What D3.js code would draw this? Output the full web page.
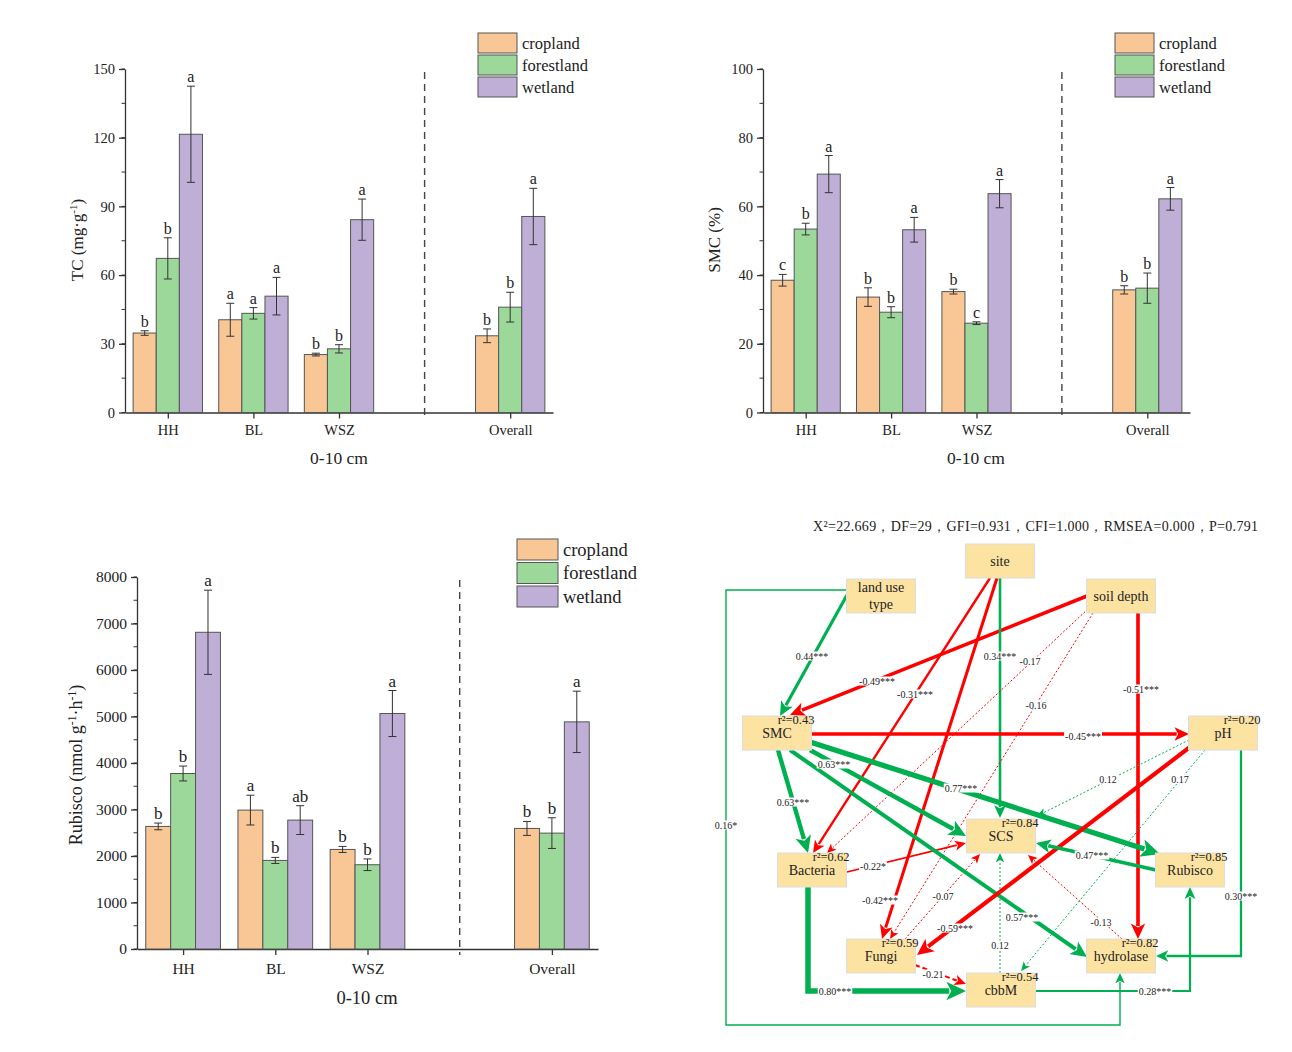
<!DOCTYPE html>
<html>
<head>
<meta charset="utf-8">
<title>TC, SMC, Rubisco and path model</title>
<script src="https://d3js.org/d3.v7.min.js" charset="utf-8"></script>
<style>
  body { margin: 0; background: #fff; }
  svg text { font-family: "Liberation Serif", "Times New Roman", serif; fill: #222; }
</style>
</head>
<body>
<svg id="fig" width="1292" height="1052"></svg>
<script>
// ---------- data ----------
var sites = ["HH", "BL", "WSZ", "Overall"];
var slots = ["HH", "BL", "WSZ", "gap", "Overall"];
var landUses = ["cropland", "forestland", "wetland"];
var landColors = ["#F9C695", "#9DD89B", "#BFAED6"];

// TC (mg g-1): rows = cropland, forestland, wetland ; cols = HH, BL, WSZ, Overall
var tcMean = [[34.7, 40.5, 25.3, 33.5], [67.3, 43.3, 27.8, 46.0], [121.5, 50.8, 84.2, 85.6]];
var tcErr  = [[1.0, 7.2, 0.6, 3.0], [9.0, 2.5, 1.8, 6.5], [21.0, 8.2, 9.0, 12.3]];
var tcLetters = [["b", "a", "b", "b"], ["b", "a", "b", "b"], ["a", "a", "a", "a"]];

// SMC (%)
var smcMean = [[38.5, 33.6, 35.2, 35.7], [53.4, 29.2, 26.0, 36.2], [69.4, 53.2, 63.7, 62.2]];
var smcErr  = [[1.7, 2.7, 0.7, 1.2], [1.7, 1.6, 0.4, 4.4], [5.4, 3.6, 4.1, 3.3]];
var smcLetters = [["c", "b", "b", "b"], ["b", "b", "c", "b"], ["a", "a", "a", "a"]];

// Rubisco (nmol g-1 h-1)
var rubMean = [[2636, 2987, 2141, 2593], [3774, 1905, 1812, 2492], [6811, 2772, 5064, 4885]];
var rubErr  = [[72, 320, 65, 150], [160, 65, 125, 330], [906, 310, 495, 660]];
var rubLetters = [["b", "a", "b", "b"], ["b", "b", "b", "b"], ["a", "ab", "a", "a"]];

// path model
var fitText = "X²=22.669，DF=29，GFI=0.931，CFI=1.000，RMSEA=0.000，P=0.791";
var semNodes = ["site", "land use type", "soil depth", "SMC", "pH", "SCS", "Bacteria", "Rubisco", "Fungi", "hydrolase", "cbbM"];
var semR2 = [null, null, null, 0.43, 0.20, 0.84, 0.62, 0.85, 0.59, 0.82, 0.54];
var semFrom = ["land use type", "soil depth", "site", "site", "site", "soil depth", "SMC", "soil depth", "soil depth",
  "Fungi", "Bacteria", "Bacteria", "Fungi", "SMC", "SMC", "SMC", "SMC", "pH", "pH", "pH", "pH", "Rubisco",
  "hydrolase", "cbbM", "cbbM", "land use type"];
var semTo = ["SMC", "SMC", "Bacteria", "Fungi", "SCS", "hydrolase", "pH", "Bacteria", "Fungi",
  "SCS", "SCS", "cbbM", "cbbM", "Bacteria", "SCS", "Rubisco", "hydrolase", "Fungi", "SCS", "cbbM", "hydrolase", "SCS",
  "SCS", "SCS", "Rubisco", "hydrolase"];
var semCoef = [0.44, -0.49, -0.31, -0.42, 0.34, -0.51, -0.45, -0.17, -0.16,
  -0.07, -0.22, 0.80, -0.21, 0.63, 0.63, 0.77, 0.57, -0.59, 0.12, 0.17, 0.30, 0.47,
  -0.13, 0.12, 0.28, 0.16];
var semSig = ["***", "***", "***", "***", "***", "***", "***", "", "",
  "", "*", "***", "", "***", "***", "***", "***", "***", "", "", "***", "***",
  "", "", "***", "*"];

// ---------- layout ----------
var svg = d3.select("#fig");

function barPanel(cfg) {
  var g = svg.append("g");
  var x = d3.scalePoint().domain(slots).range([cfg.x0, cfg.x1]).padding(0.5);
  var step = x.step();
  var inner = d3.scaleBand().domain(landUses).range([-0.405 * step, 0.405 * step]);
  var y = d3.scaleLinear().domain([0, cfg.max]).range([cfg.yb, cfg.yt]);

  // minor ticks
  g.selectAll("line.minor")
    .data(d3.range(0, cfg.max + 1e-9, cfg.minor))
    .join("line")
    .attr("x1", cfg.x0 - 3.5).attr("x2", cfg.x0)
    .attr("y1", d => y(d)).attr("y2", d => y(d))
    .attr("stroke", "#333").attr("stroke-width", 1);

  var ya = g.append("g").attr("transform", "translate(" + cfg.x0 + ",0)")
    .call(d3.axisLeft(y).tickValues(d3.range(0, cfg.max + 1e-9, cfg.major))
      .tickFormat(d3.format("d")).tickSize(6).tickSizeOuter(0).tickPadding(4));
  var xa = g.append("g").attr("transform", "translate(0," + cfg.yb + ")")
    .call(d3.axisBottom(x).tickValues(sites).tickSize(6).tickSizeOuter(0).tickPadding(cfg.tickPad));
  [ya, xa].forEach(function (a) {
    a.selectAll("path, line").attr("stroke", "#333").attr("stroke-width", 1.3);
    a.selectAll("text").attr("font-family", "Liberation Serif").attr("font-size", cfg.tickFont).attr("fill", "#222");
  });

  // separator before Overall
  g.append("line")
    .attr("x1", x("gap")).attr("x2", x("gap"))
    .attr("y1", cfg.yt + 3).attr("y2", cfg.yb + 6)
    .attr("stroke", "#444").attr("stroke-width", 1.4).attr("stroke-dasharray", "7,5");

  landUses.forEach(function (lu, j) {
    var rows = sites.map(function (s, i) {
      return { site: s, v: cfg.mean[j][i], e: cfg.err[j][i], l: cfg.letters[j][i] };
    });
    var cx = d => x(d.site) + inner(lu) + inner.bandwidth() / 2;
    g.selectAll("rect.b" + j).data(rows).join("rect")
      .attr("x", d => x(d.site) + inner(lu))
      .attr("width", inner.bandwidth())
      .attr("y", d => y(d.v))
      .attr("height", d => cfg.yb - y(d.v))
      .attr("fill", landColors[j]).attr("stroke", "#555").attr("stroke-width", 1);
    g.selectAll("line.e" + j).data(rows).join("line")
      .attr("x1", cx).attr("x2", cx)
      .attr("y1", d => y(d.v - d.e)).attr("y2", d => y(d.v + d.e))
      .attr("stroke", "#333").attr("stroke-width", 1);
    ["-", "+"].forEach(function (sgn) {
      g.selectAll("line.c" + j + (sgn === "+" ? "u" : "d")).data(rows).join("line")
        .attr("x1", d => cx(d) - 4).attr("x2", d => cx(d) + 4)
        .attr("y1", d => y(sgn === "+" ? d.v + d.e : d.v - d.e))
        .attr("y2", d => y(sgn === "+" ? d.v + d.e : d.v - d.e))
        .attr("stroke", "#333").attr("stroke-width", 1);
    });
    g.selectAll("text.l" + j).data(rows).join("text")
      .attr("x", cx).attr("y", d => y(d.v + d.e) - 4)
      .attr("text-anchor", "middle").attr("font-size", cfg.letterFont)
      .text(d => d.l);
  });

  // legend
  var lg = g.append("g").attr("transform", "translate(" + cfg.legend[0] + "," + cfg.legend[1] + ")");
  landUses.forEach(function (lu, j) {
    lg.append("rect").attr("x", 0).attr("y", j * cfg.legGap)
      .attr("width", cfg.legW).attr("height", cfg.legH)
      .attr("fill", landColors[j]).attr("stroke", "#555").attr("stroke-width", 1);
    lg.append("text").attr("x", cfg.legW + 5).attr("y", j * cfg.legGap + cfg.legH / 2)
      .attr("dy", "0.35em").attr("font-size", cfg.legFont).text(lu);
  });

  // axis titles
  g.append("text").attr("x", cfg.xLabelX).attr("y", cfg.xLabelY)
    .attr("text-anchor", "middle").attr("font-size", cfg.titleFont).text("0-10 cm");
  var yl = g.append("text")
    .attr("transform", "translate(" + cfg.yLabel[0] + "," + cfg.yLabel[1] + ") rotate(-90)")
    .attr("text-anchor", "middle").attr("font-size", cfg.yFont);
  cfg.yTitle.forEach(function (p) {
    var t = yl.append("tspan").text(p[0]);
    if (p[1]) t.attr("baseline-shift", "super").attr("font-size", cfg.yFont * 0.65);
  });
}

barPanel({
  x0: 125, x1: 553, yb: 412.5, yt: 69, max: 150, major: 30, minor: 15,
  mean: tcMean, err: tcErr, letters: tcLetters,
  tickFont: 14.5, tickPad: 6, letterFont: 16, legFont: 16.5,
  legend: [478, 33], legW: 39, legH: 20, legGap: 22,
  titleFont: 17.5, xLabelX: 339, xLabelY: 464,
  yLabel: [83, 240], yFont: 17,
  yTitle: [["TC (mg·g"], ["-1", true], [")"]]
});

barPanel({
  x0: 763, x1: 1190, yb: 412.5, yt: 69, max: 100, major: 20, minor: 10,
  mean: smcMean, err: smcErr, letters: smcLetters,
  tickFont: 14.5, tickPad: 6, letterFont: 16, legFont: 16.5,
  legend: [1115, 33], legW: 39, legH: 20, legGap: 22,
  titleFont: 17.5, xLabelX: 976, xLabelY: 464,
  yLabel: [720, 240], yFont: 17,
  yTitle: [["SMC (%)"]]
});

barPanel({
  x0: 137, x1: 598, yb: 949, yt: 577, max: 8000, major: 1000, minor: 500,
  mean: rubMean, err: rubErr, letters: rubLetters,
  tickFont: 15.5, tickPad: 8, letterFont: 17, legFont: 18.5,
  legend: [517, 539], legW: 41, legH: 21, legGap: 23.5,
  titleFont: 18.5, xLabelX: 367, xLabelY: 1004,
  yLabel: [82, 765], yFont: 18,
  yTitle: [["Rubisco (nmol g"], ["-1", true], ["·h"], ["-1", true], [")"]]
});

// ---------- path model ----------
// panel coordinates (local) mapped to page by two linear scales
var sx = d3.scaleLinear().domain([0, 560]).range([710, 1270]);
var sy = d3.scaleLinear().domain([0, 530]).range([510, 1040]);

var nodeCenter = {
  "site": [290, 51], "land use type": [171, 86], "soil depth": [411, 86],
  "SMC": [67, 223], "pH": [513, 223], "SCS": [291, 326], "Bacteria": [102, 360],
  "Rubisco": [480, 360], "Fungi": [171, 446], "hydrolase": [411, 446], "cbbM": [291, 480]
};
var boxW = 69, boxH = 34;

var routes = [
  [[137, 85], [70, 206]], [[377, 86], [80, 205]], [[280, 68], [103, 343]], [[287, 68], [172, 429]],
  [[290, 68], [290, 308]], [[428, 103], [428, 429]], [[100, 224], [479, 224]],
  [[378, 99], [117, 343]], [[383, 103], [180, 429]], [[195, 429], [270, 344]],
  [[137, 362], [256, 333]], [[98, 377], [98, 481], [256, 481]], [[205, 455], [256, 474]],
  [[68, 240], [98, 343]], [[100, 240], [256, 326]], [[100, 232], [450, 344]], [[80, 240], [377, 447]],
  [[480, 237], [207, 445]], [[479, 230], [327, 306]], [[495, 240], [311, 461]],
  [[531, 240], [531, 446], [446, 446]], [[446, 360], [326, 333]], [[412, 429], [318, 345]],
  [[290, 463], [290, 343]], [[325, 481], [480, 481], [480, 377]],
  [[137, 80], [16, 80], [16, 515], [410, 515], [410, 463]]
];
var labelAt = [
  [102, 146], [167, 171], [205, 184], [170, 390], [290, 146], [431, 179], [373, 226],
  [320, 151], [326, 195], [233, 386], [163, 356], [125, 481], [223, 464],
  [83, 292], [124, 254], [251, 278], [312, 407], [245, 418], [398, 269], [470, 269],
  [531, 386], [382, 345], [391, 412], [290, 435], [445, 481], [16, 315]
];

var green = "#00B050", red = "#FF0000";
var widthScale = d3.scaleLinear().domain([0.16, 0.8]).range([1.4, 5.5]);
var line = d3.line().x(p => sx(p[0])).y(p => sy(p[1]));

var gl = svg.append("g");
semCoef.forEach(function (c, i) {
  var sig = semSig[i];
  var w = sig ? widthScale(Math.abs(c)) : (Math.abs(c) > 0.2 ? 2 : 1);
  var col = c > 0 ? green : red;
  var pts = routes[i].map(p => p.slice());
  var a = pts[pts.length - 2], b = pts[pts.length - 1];
  var dx = b[0] - a[0], dy = b[1] - a[1], len = Math.hypot(dx, dy);
  var ux = dx / len, uy = dy / len;
  var L = 7 + w * 2.3, hw = 3 + w * 1.15;
  var base = [b[0] - ux * L * 0.85, b[1] - uy * L * 0.85];
  pts[pts.length - 1] = base;
  gl.append("path").attr("d", line(pts)).attr("fill", "none")
    .attr("stroke", col).attr("stroke-width", w)
    .attr("stroke-dasharray", sig ? null : (Math.abs(c) > 0.2 ? "5,3" : "2,2"));
  var bx = b[0] - ux * L, by = b[1] - uy * L;
  var head = [[b[0], b[1]], [bx - uy * hw, by + ux * hw], [b[0] - ux * L * 0.75, b[1] - uy * L * 0.75], [bx + uy * hw, by - ux * hw]];
  gl.append("polygon").attr("points", head.map(p => sx(p[0]) + "," + sy(p[1])).join(" ")).attr("fill", col);
});

// coefficient labels on white backing
var glab = svg.append("g");
semCoef.forEach(function (c, i) {
  var t = glab.append("text")
    .attr("x", sx(labelAt[i][0])).attr("y", sy(labelAt[i][1]))
    .attr("dy", "0.35em").attr("text-anchor", "middle").attr("font-size", 10).attr("fill", "#333")
    .text(d3.format(".2f")(c).replace("−", "-") + semSig[i]);
  var bb = t.node().getBBox();
  glab.insert("rect", "text").attr("x", bb.x - 1).attr("y", bb.y + 1).attr("width", bb.width + 2).attr("height", bb.height - 2)
    .attr("fill", "#fff");
});
glab.selectAll("text").raise();

// boxes
var gn = svg.append("g");
semNodes.forEach(function (n, i) {
  var c = nodeCenter[n];
  var x0 = sx(c[0]) - boxW / 2, y0 = sy(c[1]) - boxH / 2;
  gn.append("rect").attr("x", x0).attr("y", y0).attr("width", boxW).attr("height", boxH)
    .attr("fill", "#FDE3A1").attr("stroke", "#ddd").attr("stroke-width", 1);
  var parts = n === "land use type" ? ["land use", "type"] : [n];
  parts.forEach(function (p, k) {
    gn.append("text").attr("x", sx(c[0]))
      .attr("y", sy(c[1]) + (parts.length > 1 ? (k - 0.5) * 17 : 0))
      .attr("dy", "0.35em").attr("text-anchor", "middle")
      .attr("font-size", 14).text(p);
  });
  if (semR2[i] !== null) {
    gn.append("text").attr("x", x0 + boxW + 3).attr("y", y0 + 8)
      .attr("text-anchor", "end").attr("font-size", 12.5)
      .text("r²=" + d3.format(".2f")(semR2[i]));
  }
});

svg.append("text").attr("x", 813).attr("y", 531).attr("text-anchor", "start")
  .attr("font-size", 14).attr("textLength", 445).attr("lengthAdjust", "spacing").text(fitText);
</script>
</body>
</html>
